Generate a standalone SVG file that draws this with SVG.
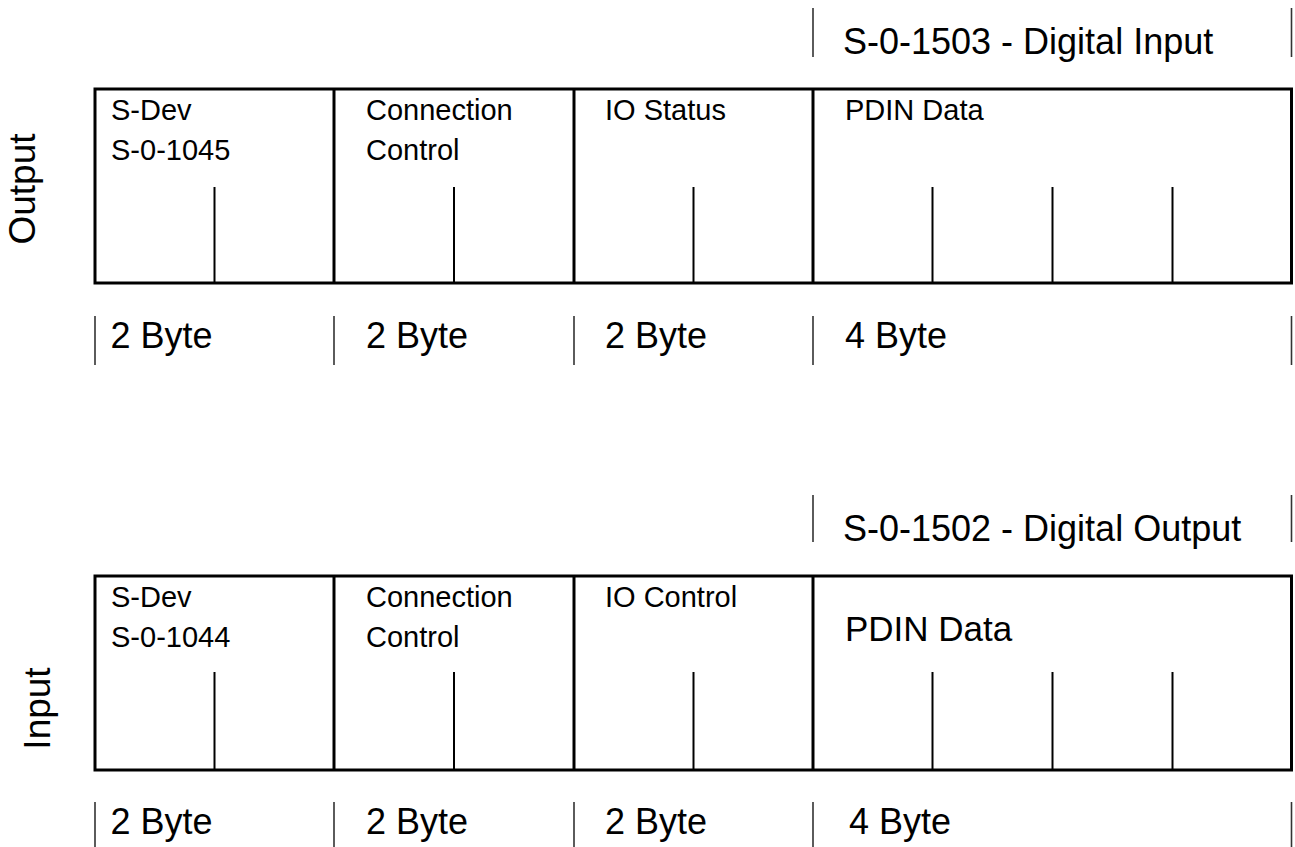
<svg xmlns="http://www.w3.org/2000/svg" width="1295" height="847" viewBox="0 0 1295 847">
<style>
text{font-family:"Liberation Sans",Arial,sans-serif;fill:#000}
.lbl{font-size:29px}
.byte{font-size:36px}
.title{font-size:36px}
.side{font-size:37px;text-anchor:middle}
.box{fill:#fff;stroke:#000;stroke-width:3}
.div{stroke:#000;stroke-width:3}
.tick{stroke:#000;stroke-width:2}
.mark{stroke:#333;stroke-width:1.6}
</style>
<rect width="1295" height="847" fill="#fff"/>

<!-- Output frame -->
<g id="output-frame">
  <text class="side" transform="translate(35,189) rotate(-90)">Output</text>
  <g id="out-title">
    <line class="mark" x1="813" y1="8" x2="813" y2="57"/>
    <line class="mark" x1="1291.5" y1="8" x2="1291.5" y2="57"/>
    <text class="title" x="843" y="54">S-0-1503 - Digital Input</text>
  </g>
  <g id="out-box">
    <rect class="box" x="95" y="89" width="1196.5" height="194"/>
    <line class="div" x1="334" y1="89" x2="334" y2="283"/>
    <line class="div" x1="574" y1="89" x2="574" y2="283"/>
    <line class="div" x1="813" y1="89" x2="813" y2="283"/>
    <line class="tick" x1="214.5" y1="187" x2="214.5" y2="283"/>
    <line class="tick" x1="454" y1="187" x2="454" y2="283"/>
    <line class="tick" x1="693.5" y1="187" x2="693.5" y2="283"/>
    <line class="tick" x1="932.5" y1="187" x2="932.5" y2="283"/>
    <line class="tick" x1="1052.5" y1="187" x2="1052.5" y2="283"/>
    <line class="tick" x1="1172.5" y1="187" x2="1172.5" y2="283"/>
  </g>
  <g id="out-sdev"><text class="lbl" x="111" y="120">S-Dev</text><text class="lbl" x="111" y="160">S-0-1045</text></g>
  <g id="out-conn"><text class="lbl" x="366" y="120">Connection</text><text class="lbl" x="366" y="160">Control</text></g>
  <g id="out-io"><text class="lbl" x="605" y="120">IO Status</text></g>
  <g id="out-pdin"><text class="lbl" x="845" y="120">PDIN Data</text></g>
  <g id="out-bytes">
    <line class="mark" x1="95" y1="316" x2="95" y2="365"/>
    <line class="mark" x1="334" y1="316" x2="334" y2="365"/>
    <line class="mark" x1="574" y1="316" x2="574" y2="365"/>
    <line class="mark" x1="813" y1="316" x2="813" y2="365"/>
    <line class="mark" x1="1291.5" y1="316" x2="1291.5" y2="365"/>
    <text class="byte" x="110.5" y="348">2 Byte</text>
    <text class="byte" x="366" y="348">2 Byte</text>
    <text class="byte" x="605" y="348">2 Byte</text>
    <text class="byte" x="845" y="348">4 Byte</text>
  </g>
</g>

<!-- Input frame -->
<g id="input-frame">
  <text class="side" transform="translate(50,708.5) rotate(-90)">Input</text>
  <g id="in-title">
    <line class="mark" x1="813" y1="495" x2="813" y2="542"/>
    <line class="mark" x1="1291.5" y1="495" x2="1291.5" y2="542"/>
    <text class="title" x="843" y="541">S-0-1502 - Digital Output</text>
  </g>
  <g id="in-box">
    <rect class="box" x="95" y="576" width="1196.5" height="194"/>
    <line class="div" x1="334" y1="576" x2="334" y2="770"/>
    <line class="div" x1="574" y1="576" x2="574" y2="770"/>
    <line class="div" x1="813" y1="576" x2="813" y2="770"/>
    <line class="tick" x1="214.5" y1="672" x2="214.5" y2="770"/>
    <line class="tick" x1="454" y1="672" x2="454" y2="770"/>
    <line class="tick" x1="693.5" y1="672" x2="693.5" y2="770"/>
    <line class="tick" x1="932.5" y1="672" x2="932.5" y2="770"/>
    <line class="tick" x1="1052.5" y1="672" x2="1052.5" y2="770"/>
    <line class="tick" x1="1172.5" y1="672" x2="1172.5" y2="770"/>
  </g>
  <g id="in-sdev"><text class="lbl" x="111" y="607">S-Dev</text><text class="lbl" x="111" y="647">S-0-1044</text></g>
  <g id="in-conn"><text class="lbl" x="366" y="607">Connection</text><text class="lbl" x="366" y="647">Control</text></g>
  <g id="in-io"><text class="lbl" x="605" y="607">IO Control</text></g>
  <g id="in-pdin"><text class="lbl" x="845" y="641" style="font-size:35px">PDIN Data</text></g>
  <g id="in-bytes">
    <line class="mark" x1="95" y1="802" x2="95" y2="847"/>
    <line class="mark" x1="334" y1="802" x2="334" y2="847"/>
    <line class="mark" x1="574" y1="802" x2="574" y2="847"/>
    <line class="mark" x1="813" y1="802" x2="813" y2="847"/>
    <line class="mark" x1="1291.5" y1="802" x2="1291.5" y2="847"/>
    <text class="byte" x="110.5" y="834">2 Byte</text>
    <text class="byte" x="366" y="834">2 Byte</text>
    <text class="byte" x="605" y="834">2 Byte</text>
    <text class="byte" x="849" y="834">4 Byte</text>
  </g>
</g>
</svg>
